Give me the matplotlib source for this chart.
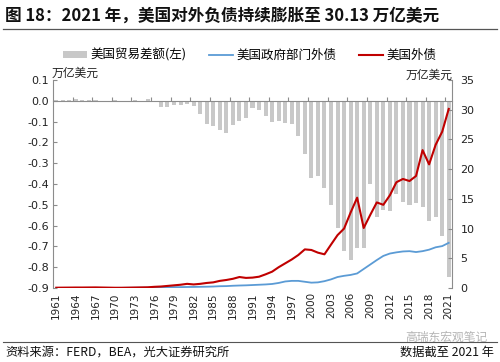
import matplotlib
matplotlib.use("Agg")
import matplotlib.pyplot as plt
from matplotlib.lines import Line2D
from matplotlib.patches import Patch
import numpy as np

plt.rcParams["font.family"] = ["Noto Sans CJK SC", "DejaVu Sans"]

# 年份 1961-2021
years = list(range(1961, 2022))

# 美国贸易差额（万亿美元，左轴）
trade_balance = [
    0.005, 0.004, 0.005, 0.007, 0.005, 0.003, 0.003, 0.001, 0.001, 0.002,
    -0.001, -0.006, 0.002, -0.004, 0.010, -0.006, -0.030, -0.032, -0.022, -0.020,
    -0.016, -0.027, -0.062, -0.110, -0.123, -0.139, -0.153, -0.115, -0.096, -0.083,
    -0.036, -0.043, -0.072, -0.100, -0.099, -0.107, -0.112, -0.170, -0.255, -0.372,
    -0.362, -0.420, -0.500, -0.610, -0.720, -0.765, -0.710, -0.710, -0.400, -0.560,
    -0.526, -0.530, -0.450, -0.487, -0.500, -0.490, -0.510, -0.580, -0.560, -0.650,
    -0.847,
]

# 美国政府部门外债（万亿美元，右轴）
gov_debt = [
    0.02, 0.02, 0.02, 0.02, 0.02, 0.02, 0.02, 0.02, 0.02, 0.02,
    0.03, 0.04, 0.05, 0.06, 0.07, 0.10, 0.12, 0.15, 0.15, 0.15,
    0.17, 0.18, 0.20, 0.22, 0.25, 0.30, 0.32, 0.38, 0.42, 0.45,
    0.50, 0.55, 0.60, 0.68, 0.85, 1.10, 1.20, 1.20, 1.05, 0.90,
    0.95, 1.15, 1.45, 1.85, 2.05, 2.20, 2.45, 3.20, 3.95, 4.70,
    5.40, 5.80, 6.00, 6.15, 6.20, 6.05, 6.20, 6.45, 6.85, 7.05,
    7.60,
]

# 美国外债（万亿美元，右轴）
ext_debt = [
    0.05, 0.06, 0.07, 0.08, 0.08, 0.09, 0.10, 0.08, 0.06, 0.04,
    0.04, 0.06, 0.08, 0.10, 0.12, 0.20, 0.25, 0.35, 0.45, 0.55,
    0.70, 0.60, 0.70, 0.85, 0.95, 1.20, 1.35, 1.55, 1.85, 1.70,
    1.75, 1.90, 2.30, 2.75, 3.50, 4.15, 4.80, 5.55, 6.50, 6.40,
    5.95, 5.67, 7.30, 8.90, 10.00, 12.70, 15.20, 10.10, 12.30, 14.40,
    14.00, 15.60, 17.80, 18.35, 18.00, 18.85, 23.20, 20.80, 24.10, 26.30,
    30.13,
]

left_ticks = [-0.9, -0.8, -0.7, -0.6, -0.5, -0.4, -0.3, -0.2, -0.1, 0.0, 0.1]
right_ticks = [0, 5, 10, 15, 20, 25, 30, 35]

bar_color = "#c8c8c8"
blue = "#5b9bd5"
red = "#c00000"
spine_color = "#8c8c8c"

x = np.arange(len(years))

fig = plt.figure(figsize=(5, 3.62), dpi=100)
ax = fig.add_axes([0.106, 0.2044, 0.798, 0.5746])
ax2 = ax.twinx()

ax.bar(x, trade_balance, width=0.62, color=bar_color, zorder=2)
ax2.plot(x, gov_debt, color=blue, lw=1.3)
ax2.plot(x, ext_debt, color=red, lw=1.5)

ax.set_xlim(-0.5, len(years) - 0.5)
ax.set_ylim(-0.9, 0.1)
ax2.set_ylim(0, 35)
ax.set_yticks(left_ticks)
ax.set_yticklabels([f"{v:.1f}" for v in left_ticks], family="DejaVu Sans", fontsize=8)
ax2.set_yticks(right_ticks)
ax2.set_yticklabels([str(v) for v in right_ticks], family="DejaVu Sans", fontsize=8)

for a in (ax, ax2):
    for s in a.spines.values():
        s.set_color(spine_color)
        s.set_linewidth(0.8)
    a.spines["top"].set_visible(False)
ax2.spines["bottom"].set_visible(False)
ax.spines["right"].set_visible(False)
ax2.spines["left"].set_visible(False)

ax.tick_params(axis="y", direction="in", length=3, color=spine_color, pad=3, labelcolor="#222222")
ax2.tick_params(axis="y", direction="in", length=3, color=spine_color, pad=6, labelcolor="#222222")

# 零轴：横轴位于 0 处，刻度在类别分界处
ax.spines["bottom"].set_position(("data", 0))
ax.set_xticks(np.arange(2.5, len(years) - 1, 3))
ax.tick_params(axis="x", direction="in", length=3, color=spine_color, labelbottom=False)

sec = ax.secondary_xaxis(0)
sec.set_xticks(x[::3])
sec.set_xticklabels([str(y) for y in years[::3]], rotation=90, family="DejaVu Sans",
                    fontsize=7.5, color="#222222")
sec.tick_params(length=0, pad=3)
sec.spines["bottom"].set_visible(False)

# 单位
fig.text(0.104, 0.797, "万亿美元", fontsize=8.5, ha="left", va="center", color="#222222")
fig.text(0.905, 0.792, "万亿美元", fontsize=8.5, ha="right", va="center", color="#222222")

# 图例
handles = [
    Patch(facecolor=bar_color, edgecolor="none"),
    Line2D([], [], color=blue, lw=1.3),
    Line2D([], [], color=red, lw=1.5),
]
labels = ["美国贸易差额(左)", "美国政府部门外债", "美国外债"]
fig.legend(handles, labels, loc="center", bbox_to_anchor=(0.5, 0.848), ncol=3,
           frameon=False, fontsize=9, handlelength=1.9, handleheight=0.5,
           handletextpad=0.3, columnspacing=1.8, borderaxespad=0)

# 标题与分隔线
fig.text(0.01, 0.958, "图 18：2021 年，美国对外负债持续膨胀至 30.13 万亿美元",
         fontsize=12, fontweight="bold", ha="left", va="center", color="#111111")
fig.add_artist(Line2D([0.006, 0.994], [0.920, 0.920], color="#555555", lw=0.9))

# 底部
fig.add_artist(Line2D([0.006, 0.994], [0.055, 0.055], color="#555555", lw=0.8))
fig.text(0.975, 0.068, "高瑞东宏观笔记", fontsize=8.5, ha="right", va="center", color="#b5b5b5")
fig.text(0.01, 0.027, "资料来源：FERD，BEA，光大证券研究所", fontsize=8.8,
         ha="left", va="center", color="#111111")
fig.text(0.988, 0.027, "数据截至 2021 年", fontsize=8.8, ha="right", va="center", color="#111111")

fig.savefig("out.png", dpi=100)
